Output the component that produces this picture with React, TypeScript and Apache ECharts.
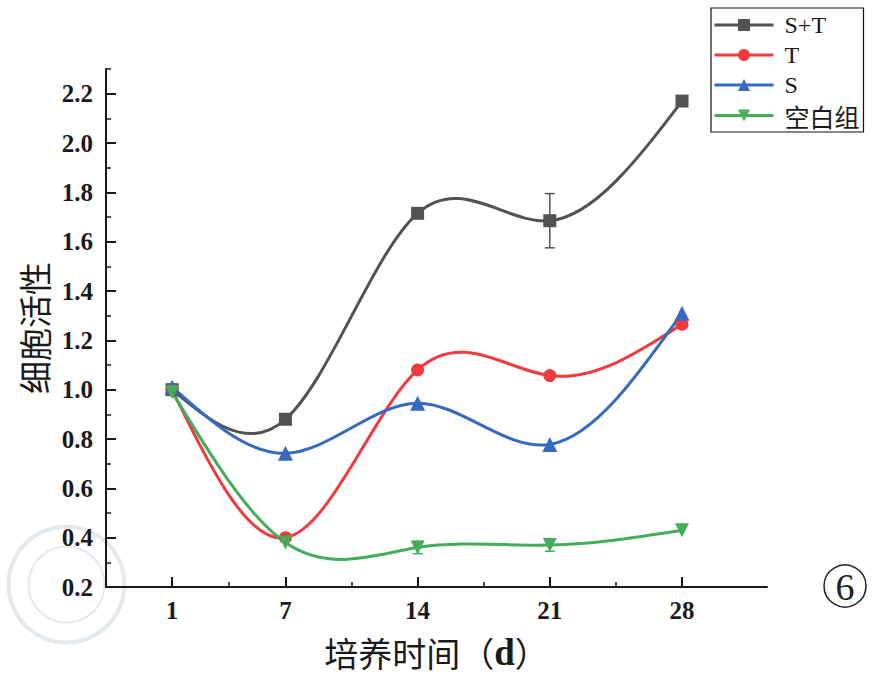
import React, { useEffect, useRef } from "react";
import * as echarts from "echarts";

const days = [1, 7, 14, 21, 28];
const stValues = [1.0, 0.88, 1.715, 1.685, 2.17];
const tValues = [1.0, 0.4, 1.08, 1.057, 1.265];
const sValues = [1.01, 0.742, 0.945, 0.778, 1.31];
const blankValues = [0.99, 0.38, 0.36, 0.37, 0.43];
const stErr = [0, 0, 0, 0.11, 0];
const blankErr = [0, 0, 0.025, 0.025, 0];

const seriesNames = ["S+T", "T", "S", "空白组"];
const xTicks = [1, 7, 14, 21, 28];
const xMinorTicks = [4, 10.5, 17.5, 24.5];
const yTicks = [0.2, 0.4, 0.6, 0.8, 1.0, 1.2, 1.4, 1.6, 1.8, 2.0, 2.2];
const yMinorTicks = [0.3, 0.5, 0.7, 0.9, 1.1, 1.3, 1.5, 1.7, 1.9, 2.1, 2.3];

const colors = ["#525252", "#ef3a3e", "#3569c2", "#45ad5a"];
const serif = "'Liberation Serif', 'Times New Roman', serif";
const cjk = "'Noto Sans CJK SC', sans-serif";
const ink = "#1a1a1a";

function pairs(vals: number[]) {
  return days.map((d, i) => [d, vals[i]]);
}
function errData(vals: number[], errs: number[]) {
  const out: number[][] = [];
  days.forEach((d, i) => {
    if (errs[i] > 0) out.push([d, vals[i] - errs[i], vals[i] + errs[i]]);
  });
  return out;
}

// natural cubic spline tangents (data space) for drawing the connecting curve
function splineTangents(xs: number[], ys: number[]) {
  const n = xs.length;
  const h: number[] = [];
  const d: number[] = [];
  for (let i = 0; i < n - 1; i++) {
    h.push(xs[i + 1] - xs[i]);
    d.push((ys[i + 1] - ys[i]) / h[i]);
  }
  const M = new Array(n).fill(0);
  const m = n - 2;
  if (m > 0) {
    const a: number[] = [], b: number[] = [], c: number[] = [], r: number[] = [];
    for (let i = 1; i <= m; i++) {
      a.push(h[i - 1]);
      b.push(2 * (h[i - 1] + h[i]));
      c.push(h[i]);
      r.push(6 * (d[i] - d[i - 1]));
    }
    for (let i = 1; i < m; i++) {
      const w = a[i] / b[i - 1];
      b[i] -= w * c[i - 1];
      r[i] -= w * r[i - 1];
    }
    const sol = new Array(m).fill(0);
    sol[m - 1] = r[m - 1] / b[m - 1];
    for (let i = m - 2; i >= 0; i--) sol[i] = (r[i] - c[i] * sol[i + 1]) / b[i];
    for (let i = 0; i < m; i++) M[i + 1] = sol[i];
  }
  const t: number[] = [];
  for (let i = 0; i < n - 1; i++) t.push(d[i] - (h[i] * (2 * M[i] + M[i + 1])) / 6);
  t.push(d[n - 2] + (h[n - 2] * (M[n - 2] + 2 * M[n - 1])) / 6);
  return t;
}

function curveSeries(vals: number[], color: string) {
  const tang = splineTangents(days, vals);
  return {
    type: "custom",
    silent: true,
    z: 2,
    data: [[days[0], vals[0]]],
    renderItem: (_p: any, api: any) => {
      const children: any[] = [];
      for (let i = 0; i < days.length - 1; i++) {
        const h = (days[i + 1] - days[i]) / 3;
        const p0 = api.coord([days[i], vals[i]]);
        const c1 = api.coord([days[i] + h, vals[i] + tang[i] * h]);
        const c2 = api.coord([days[i + 1] - h, vals[i + 1] - tang[i + 1] * h]);
        const p1 = api.coord([days[i + 1], vals[i + 1]]);
        children.push({
          type: "bezierCurve",
          shape: { x1: p0[0], y1: p0[1], cpx1: c1[0], cpy1: c1[1], cpx2: c2[0], cpy2: c2[1], x2: p1[0], y2: p1[1] },
          style: { stroke: color, lineWidth: 3, fill: "none", lineCap: "round" },
        });
      }
      return { type: "group", children };
    },
  };
}

function errSeries(color: string, data: number[][]) {
  return {
    type: "custom",
    silent: true,
    z: 1,
    data,
    encode: { x: 0, y: [1, 2] },
    renderItem: (_p: any, api: any) => {
      const x = api.value(0);
      const lo = api.coord([x, api.value(1)]);
      const hi = api.coord([x, api.value(2)]);
      const w = 5;
      const st = { stroke: color, lineWidth: 1.5 };
      return {
        type: "group",
        children: [
          { type: "line", shape: { x1: lo[0], y1: lo[1], x2: hi[0], y2: hi[1] }, style: st },
          { type: "line", shape: { x1: lo[0] - w, y1: lo[1], x2: lo[0] + w, y2: lo[1] }, style: st },
          { type: "line", shape: { x1: hi[0] - w, y1: hi[1], x2: hi[0] + w, y2: hi[1] }, style: st },
        ],
      };
    },
  };
}

function markerSeries(name: string, vals: number[], color: string, symbol: string, size: number) {
  return {
    name,
    type: "line",
    data: pairs(vals),
    symbol,
    symbolSize: size,
    z: 3,
    lineStyle: { color, width: 3, opacity: 0 },
    itemStyle: { color },
  };
}

export default function App() {
  const ref = useRef<HTMLDivElement>(null);
  useEffect(() => {
    const chart = echarts.init(ref.current!, null, { renderer: "svg" });
    const axisLineStyle = { color: ink, width: 2 };
    const option: any = {
      animation: false,
      backgroundColor: "#ffffff",
      grid: { left: 106, right: 119, top: 69, bottom: 99, outerBoundsMode: "none", containLabel: false },
      legend: {
        orient: "vertical",
        left: 711,
        top: 8,
        padding: [5, 4, 4, 2],
        itemWidth: 59,
        itemHeight: 15,
        itemGap: 6,
        borderColor: "#111",
        borderWidth: 1.2,
        data: seriesNames.map((n, i) => ({
          name: n,
          lineStyle: { color: colors[i], width: 3, opacity: 1 },
          itemStyle: { color: colors[i] },
        })),
        formatter: (n: string) => (n === "空白组" ? "{cn|" + n + "}" : "{en|" + n + "}"),
        textStyle: {
          padding: [0, 0, 0, 6],
          rich: {
            en: { fontFamily: serif, fontSize: 24, color: ink },
            cn: { fontFamily: cjk, fontSize: 25, color: ink },
          },
        },
      },
      xAxis: [
        {
          type: "value",
          min: -2.5,
          max: 32.5,
          position: "bottom",
          axisLine: { show: true, onZero: false, lineStyle: axisLineStyle },
          axisTick: { show: true, inside: true, length: 10, customValues: xTicks, lineStyle: { color: ink, width: 2 } },
          axisLabel: { customValues: xTicks, margin: 11, fontFamily: serif, fontWeight: "bold", fontSize: 25, color: ink },
          splitLine: { show: false },
          name: "{cn|培养时间（}{d|d}{cn|）}",
          nameLocation: "middle",
          nameGap: 47,
          nameTextStyle: {
            rich: {
              cn: { fontFamily: cjk, fontSize: 34, color: ink },
              d: { fontFamily: serif, fontSize: 37, fontWeight: "bold", color: ink },
            },
          },
        },
        {
          type: "value",
          min: -2.5,
          max: 32.5,
          position: "bottom",
          axisLine: { show: false, onZero: false },
          axisTick: { show: true, inside: true, length: 5, customValues: xMinorTicks, lineStyle: { color: ink, width: 1.5 } },
          axisLabel: { show: false },
          splitLine: { show: false },
        },
      ],
      yAxis: [
        {
          type: "value",
          min: 0.2,
          max: 2.3,
          position: "left",
          axisLine: { show: true, onZero: false, lineStyle: axisLineStyle },
          axisTick: { show: true, inside: true, length: 10, customValues: yTicks, lineStyle: { color: ink, width: 2 } },
          axisLabel: {
            customValues: yTicks,
            margin: 13,
            fontFamily: serif,
            fontWeight: "bold",
            fontSize: 25,
            color: ink,
            formatter: (v: number) => v.toFixed(1),
          },
          splitLine: { show: false },
          name: "细胞活性",
          nameLocation: "middle",
          nameGap: 56,
          nameTextStyle: { fontFamily: cjk, fontSize: 33, color: ink },
        },
        {
          type: "value",
          min: 0.2,
          max: 2.3,
          position: "left",
          axisLine: { show: false, onZero: false },
          axisTick: { show: true, inside: true, length: 5, customValues: yMinorTicks, lineStyle: { color: ink, width: 1.5 } },
          axisLabel: { show: false },
          splitLine: { show: false },
        },
      ],
      graphic: [
        {
          type: "group",
          left: 6,
          top: 524,
          silent: true,
          children: [
            { type: "circle", shape: { cx: 60, cy: 60, r: 58 }, style: { fill: "none", stroke: "#e3e9ed", lineWidth: 4 } },
            { type: "circle", shape: { cx: 60, cy: 60, r: 38 }, style: { fill: "none", stroke: "#e3e9ed", lineWidth: 2 } },
          ],
        },
        {
          type: "circle",
          shape: { cx: 845, cy: 586, r: 21 },
          style: { fill: "none", stroke: "#222", lineWidth: 1.5 },
        },
        {
          type: "text",
          x: 845,
          y: 587,
          style: { text: "6", fontFamily: serif, fontSize: 38, fill: "#222", textAlign: "center", textVerticalAlign: "middle" },
        },
      ],
      series: [
        errSeries(colors[0], errData(stValues, stErr)),
        errSeries(colors[3], errData(blankValues, blankErr)),
        curveSeries(stValues, colors[0]),
        curveSeries(tValues, colors[1]),
        curveSeries(sValues, colors[2]),
        curveSeries(blankValues, colors[3]),
        markerSeries(seriesNames[0], stValues, colors[0], "rect", 13),
        markerSeries(seriesNames[1], tValues, colors[1], "circle", 13),
        markerSeries(seriesNames[2], sValues, colors[2], "triangle", 15),
        markerSeries(seriesNames[3], blankValues, colors[3], "path://M0,0 L10,0 L5,9 Z", 14),
      ],
    };
    chart.setOption(option);
    return () => chart.dispose();
  }, []);
  return <div ref={ref} style={{ position: "absolute", left: 0, top: 0, width: 886, height: 686 }} />;
}
